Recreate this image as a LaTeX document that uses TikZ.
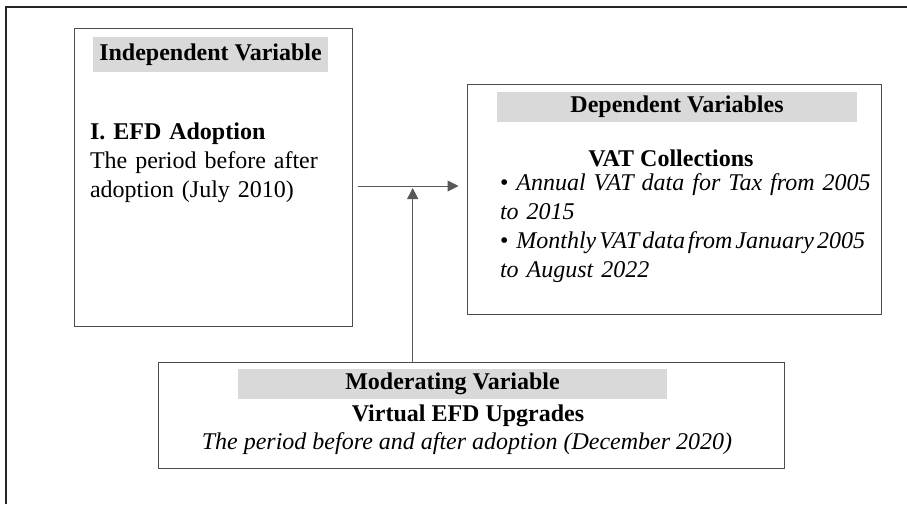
\documentclass[tikz,border=0pt]{standalone}
\usepackage{fontspec}
\setmainfont{Liberation Serif}
\usetikzlibrary{arrows.meta}
\newcommand{\fsz}{\fontsize{24}{29}\selectfont}
\begin{document}
\begin{tikzpicture}[x=1pt,y=-1pt,
  vbox/.style={draw=black!70,line width=1pt,inner sep=0pt},
  band/.style={fill=black!15,inner sep=0pt,font=\fsz\bfseries},
  txt/.style={inner sep=0pt,font=\fsz},
  conn/.style={draw=black!65,line width=1pt,-{Triangle[length=11pt,width=11pt]}}]
\useasboundingbox (0,0) rectangle (907,504);
\fill[white] (0,0) rectangle (907,504);
\draw[line width=1.8pt,black!85] (6,504) -- (6,7) -- (907,7);
% boxes
\node[vbox,minimum width=278pt,minimum height=298pt] (ind) at (213,177) {};
\node[vbox,minimum width=414pt,minimum height=230pt] (dep) at (674,199) {};
\node[vbox,minimum width=626pt,minimum height=106pt] (mod) at (471,415) {};
% headers
\node[band,minimum width=235pt,minimum height=35pt] (indh) at (210.5,54.5) {Independent Variable};
\node[band,minimum width=360pt,minimum height=30pt] (deph) at (677,107) {Dependent Variables};
\node[band,minimum width=429pt,minimum height=30pt] (modh) at (452.5,384) {Moderating Variable};
% texts
\node[txt,text width=232pt,align=left] (efd) at (206,162.5)
  {\textbf{I. EFD Adoption}\\\makebox[232pt][s]{The period before after}\\adoption (July 2010)};
\node[txt,font=\fsz\bfseries] (vat) at (671,158) {VAT Collections};
\node[txt,text width=365pt,align=left] (list) at (682.5,228.5)
  {\makebox[365pt][s]{\textbullet\ \textit{Annual VAT data for Tax from 2005}}\\
   \textit{to 2015}\\
   \leavevmode\hbox to 365pt{\textbullet\hspace{8pt}\itshape Monthly\hfill VAT\hfill data\hfill from\hfill January\hfill 2005}\\
   \textit{to August 2022}};
\node[txt,font=\fsz\bfseries] (virt) at (468,416) {Virtual EFD Upgrades};
\node[txt,font=\fsz\itshape] (per) at (467,444) {The period before and after adoption (December 2020)};
% connectors
\coordinate (j) at (412.7,186);
\draw[conn,shorten <=5pt,shorten >=8pt] (ind.east |- j) -- (dep.west |- j);
\draw[conn,shorten >=2pt] (mod.north -| j) -- (j);
\end{tikzpicture}
\end{document}
